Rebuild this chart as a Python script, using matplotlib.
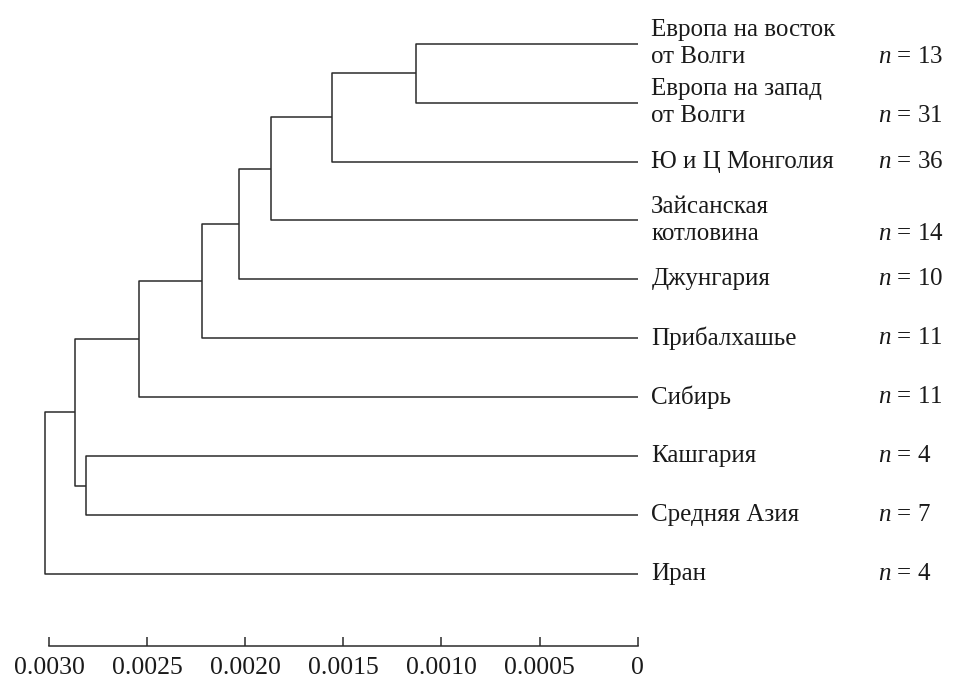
import matplotlib
matplotlib.use("Agg")
import matplotlib.pyplot as plt

plt.rcParams["font.family"] = ["Liberation Serif", "DejaVu Serif"]
plt.rcParams["mathtext.fontset"] = "custom"
plt.rcParams["mathtext.rm"] = "Liberation Serif"
plt.rcParams["mathtext.it"] = "Liberation Serif:italic"

# Leaves, top to bottom
regions = [
    "Европа на восток\nот Волги",
    "Европа на запад\nот Волги",
    "Ю и Ц Монголия",
    "Зайсанская\nкотловина",
    "Джунгария",
    "Прибалхашье",
    "Сибирь",
    "Кашгария",
    "Средняя Азия",
    "Иран",
]
sample_sizes = [13, 31, 36, 14, 10, 11, 11, 4, 7, 4]

# Agglomeration steps: (child A, child B, distance); ids >= 10 are earlier merges
merge_left = [0, 10, 11, 12, 13, 14, 7, 15, 17]
merge_right = [1, 2, 3, 4, 5, 6, 8, 16, 9]
merge_height = [0.00113, 0.00156, 0.00187, 0.00203, 0.00222,
                0.00254, 0.00281, 0.00287, 0.00302]

tick_values = [0.0030, 0.0025, 0.0020, 0.0015, 0.0010, 0.0005, 0.0]
tick_labels = ["0.0030", "0.0025", "0.0020", "0.0015", "0.0010", "0.0005", "0"]

W, H = 954, 678
fig = plt.figure(figsize=(W / 100, H / 100), dpi=100)
left_px, right_px, top_px, bottom_px = 49, 637.7, 43.7, 646
ax = fig.add_axes([left_px / W, 1 - bottom_px / H,
                   (right_px - left_px) / W, (bottom_px - top_px) / H])
step = 58.92
ax.set_xlim(0.0030, 0.0)
ax.set_ylim((bottom_px - top_px) / step, 0)

line_kw = dict(color="#2b2b2b", lw=1.1, solid_capstyle="butt", clip_on=False)

n_leaves = len(regions)
pos_y = {i: float(i) for i in range(n_leaves)}
pos_x = {i: 0.0 for i in range(n_leaves)}
for k, (a, b, h) in enumerate(zip(merge_left, merge_right, merge_height)):
    node = n_leaves + k
    ax.plot([pos_x[a], h, h, pos_x[b]], [pos_y[a], pos_y[a], pos_y[b], pos_y[b]], **line_kw)
    pos_y[node] = (pos_y[a] + pos_y[b]) / 2
    pos_x[node] = h

label_size = 18
for i, (name, n) in enumerate(zip(regions, sample_sizes)):
    ax.annotate(name, xy=(0, i), xytext=(9.8, 0), textcoords="offset points",
                ha="left", va="center", fontsize=label_size, linespacing=1.3,
                color="#1a1a1a")
    n_txt = f"$n$ = {n}"
    if "\n" in name:
        n_txt = "\n" + n_txt
    ax.annotate(n_txt, xy=(0, i), xytext=(173, 0), textcoords="offset points",
                ha="left", va="center", fontsize=label_size, linespacing=1.3,
                color="#1a1a1a")

for s in ["top", "left", "right"]:
    ax.spines[s].set_visible(False)
ax.spines["bottom"].set_bounds(0.0, 0.0030)
ax.spines["bottom"].set_color("#2b2b2b")
ax.spines["bottom"].set_linewidth(1.1)
ax.set_yticks([])
ax.set_xticks(tick_values)
ax.set_xticklabels(tick_labels)
ax.tick_params(axis="x", direction="in", length=6.5, width=1.1, color="#2b2b2b",
               pad=8, labelsize=18.5, labelcolor="#1a1a1a")
ax.patch.set_visible(False)

fig.savefig("out.png", dpi=100)
